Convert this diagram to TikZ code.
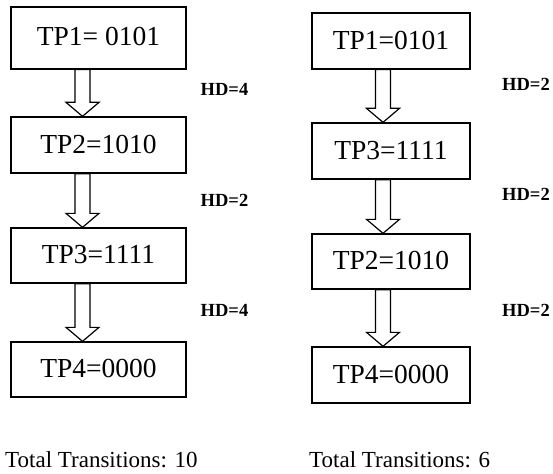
\documentclass[tikz,border=0pt]{standalone}
\usepackage{fontspec}
\setmainfont{Liberation Serif}
\usetikzlibrary{calc}
\tikzset{
  tpbox/.style={draw, line width=1.3pt, rectangle, inner sep=0pt,
    font=\fontsize{27.5}{30}\selectfont},
  hdlabel/.style={font=\fontsize{18.5}{20}\selectfont\bfseries, inner sep=0pt},
  total/.style={font=\fontsize{23}{25}\selectfont, inner sep=0pt, anchor=west},
  fatarrow/.style={draw, fill=white, line width=1.2pt, line join=miter,
    to path={
      ($(\tikztostart)+(-7.5,0)$) -- ($(\tikztotarget)+(-7.5,-14)$)
      -- ($(\tikztotarget)+(-16.5,-14)$) -- (\tikztotarget)
      -- ($(\tikztotarget)+(16.5,-14)$) -- ($(\tikztotarget)+(7.5,-14)$)
      -- ($(\tikztostart)+(7.5,0)$) -- cycle}}
}
\begin{document}
\begin{tikzpicture}[x=1pt, y=-1pt]
\useasboundingbox (0,0) rectangle (553,473);

% left sequence
\node[tpbox, minimum width=175pt, minimum height=62pt, text depth=4pt] (l1) at (98.5,38) {TP1= 0101};
\node[tpbox, minimum width=175pt, minimum height=56pt, text depth=2pt] (l2) at (98.5,145) {TP2=1010};
\node[tpbox, minimum width=175pt, minimum height=55pt, text depth=2pt] (l3) at (98.5,255.5) {TP3=1111};
\node[tpbox, minimum width=175pt, minimum height=55pt, text depth=2pt] (l4) at (98.5,369.5) {TP4=0000};

\draw[fatarrow] ([xshift=-16pt]l1.south) to ([xshift=-16pt]l2.north);
\draw[fatarrow] ([xshift=-16pt]l2.south) to ([xshift=-16pt]l3.north);
\draw[fatarrow] ([xshift=-16pt]l3.south) to ([xshift=-16pt]l4.north);

\node[hdlabel] (lh1) at (224.5,89) {HD=4};
\node[hdlabel] (lh2) at (224.5,200) {HD=2};
\node[hdlabel] (lh3) at (224.5,310) {HD=4};

\node[total] (lt) at (5,460) {Total Transitions: 10};

% right sequence
\node[tpbox, minimum width=158pt, minimum height=56pt, text depth=2pt] (r1) at (391,41) {TP1=0101};
\node[tpbox, minimum width=158pt, minimum height=56pt, text depth=2pt] (r2) at (391,151) {TP3=1111};
\node[tpbox, minimum width=158pt, minimum height=55pt, text depth=2pt] (r3) at (391,261.5) {TP2=1010};
\node[tpbox, minimum width=158pt, minimum height=56pt, text depth=2pt] (r4) at (391,375) {TP4=0000};

\draw[fatarrow] ([xshift=-8pt]r1.south) to ([xshift=-8pt]r2.north);
\draw[fatarrow] ([xshift=-8pt]r2.south) to ([xshift=-8pt]r3.north);
\draw[fatarrow] ([xshift=-8pt]r3.south) to ([xshift=-8pt]r4.north);

\node[hdlabel] (rh1) at (526,84) {HD=2};
\node[hdlabel] (rh2) at (526,194) {HD=2};
\node[hdlabel] (rh3) at (526,310) {HD=2};

\node[total] (rt) at (309,460) {Total Transitions: 6};
\end{tikzpicture}
\end{document}
